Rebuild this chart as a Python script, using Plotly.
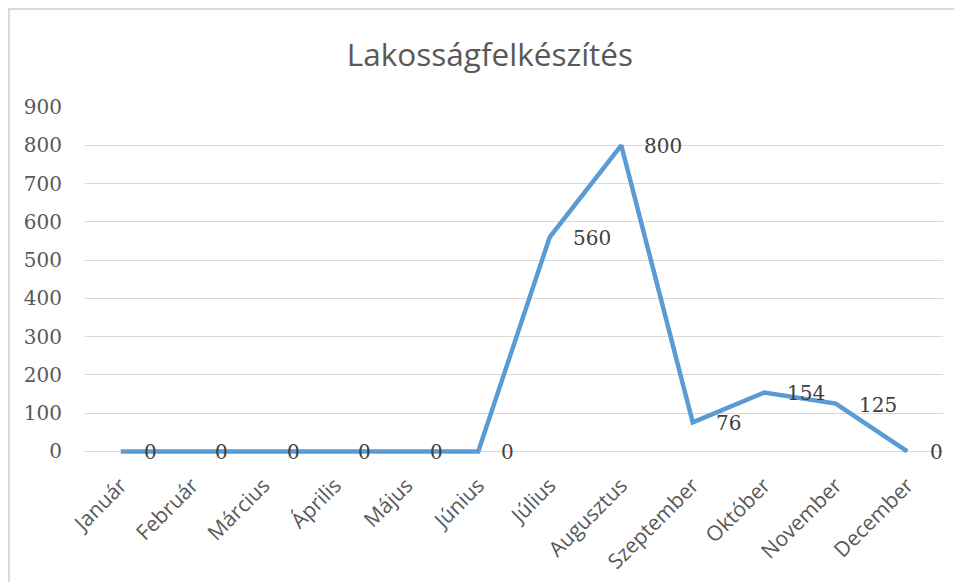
import plotly.graph_objects as go

months = ["Január", "Február", "Március", "Április", "Május", "Június",
          "Július", "Augusztus", "Szeptember", "Október", "November", "December"]
values = [0, 0, 0, 0, 0, 0, 560, 800, 76, 154, 125, 0]
y_ticks = [0, 100, 200, 300, 400, 500, 600, 700, 800, 900]
title_text = "Lakosságfelkészítés"

fig = go.Figure()
fig.add_trace(go.Scatter(
    x=months, y=values, mode="lines",
    line=dict(color="#5B9BD5", width=4.5),
    hoverinfo="skip", showlegend=False, cliponaxis=False,
))

annotations = []
for m, v in zip(months, values):
    annotations.append(dict(
        x=m, y=v, xref="x", yref="y", text=str(v), showarrow=False,
        xanchor="left", yanchor="middle", xshift=21, yshift=-1,
        font=dict(family="DejaVu Serif", size=20, color="#404040"),
    ))

# plot area: 900 units over 344 px, with a small pad below zero so the line is not clipped
pad = 12
L, T, W = 77, 99, 858
H = 344 * (900 + pad) / 900
zero_px = T + 344  # figure px of y=0
fig.update_layout(
    width=962, height=582,
    margin=dict(l=L, r=962 - L - W, t=T, b=582 - T - H),
    paper_bgcolor="white", plot_bgcolor="white",
    title=dict(text=title_text, x=0.501, xref="container", xanchor="center",
               y=1 - 47 / 582, yref="container", yanchor="middle",
               font=dict(family="Open Sans", size=31.5, color="#595959")),
    xaxis=dict(
        type="category", tickangle=-45, showgrid=False, showline=False,
        ticks="", zeroline=False, ticklabelstandoff=12,
        tickfont=dict(family="Open Sans", size=21, color="#595959"),
        range=[-0.5, len(months) - 0.5],
    ),
    yaxis=dict(
        range=[-pad, 900], tickvals=y_ticks, showgrid=True, gridcolor="#d9d9d9",
        gridwidth=1, zeroline=False, showline=False, ticks="",
        ticklabelstandoff=22,
        tickfont=dict(family="DejaVu Serif", size=20, color="#595959"),
    ),
    annotations=annotations,
    shapes=[dict(type="rect", xref="paper", yref="paper",
                 x0=(1 - L) / W, x1=(975 - L) / W,
                 y0=(T + H - 600) / H, y1=(T + H - 1) / H,
                 line=dict(color="#d9d9d9", width=2), layer="below")],
)

fig.write_html("out.html")
